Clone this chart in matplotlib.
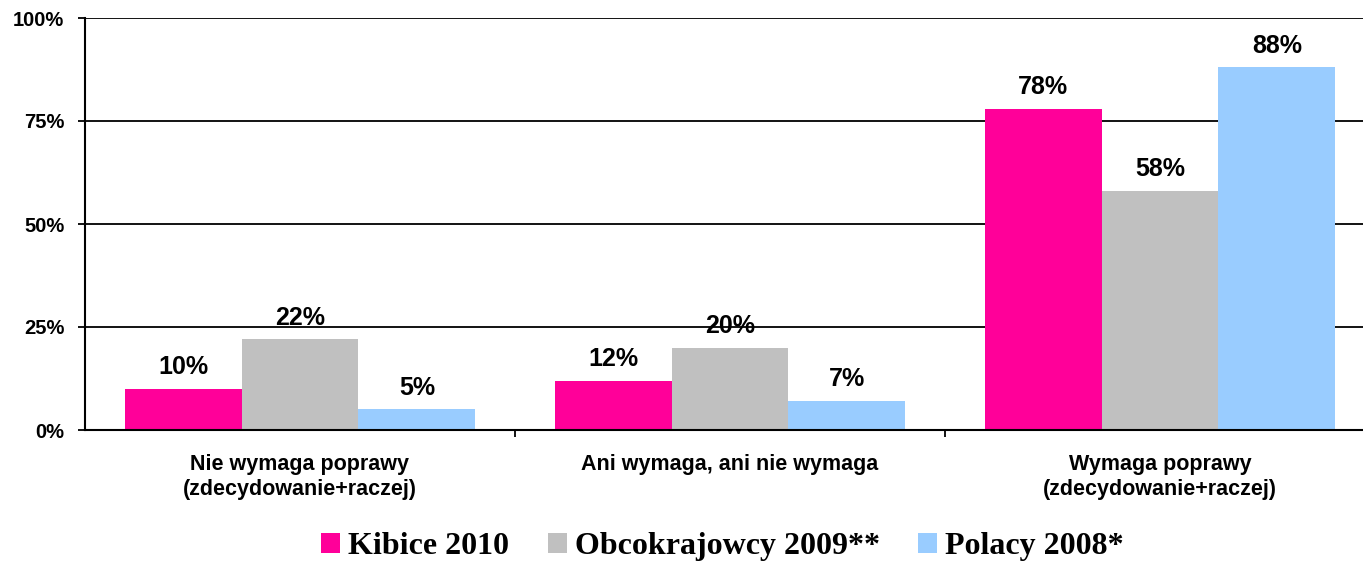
import matplotlib.pyplot as plt
import numpy as np

categories = ['Nie wymaga poprawy\n(zdecydowanie+raczej)',
              'Ani wymaga, ani nie wymaga',
              'Wymaga poprawy\n(zdecydowanie+raczej)']
series = ['Kibice 2010', 'Obcokrajowcy 2009**', 'Polacy 2008*']
kibice = [10, 12, 78]
obcokrajowcy = [22, 20, 58]
polacy = [5, 7, 88]
colors = ['#FF0099', '#C0C0C0', '#99CCFF']

sans = ['Liberation Sans', 'DejaVu Sans']
serif = ['Liberation Serif', 'DejaVu Serif']

fig = plt.figure(figsize=(13.63, 5.64), dpi=100)
# category slots are 430 px wide, so the last one runs past the right edge
ax = fig.add_axes([85 / 1363, 1 - 430 / 564, 1290 / 1363, 412 / 564])

x = np.arange(len(categories))
w = 0.816 / 3
for i, (vals, name) in enumerate(zip([kibice, obcokrajowcy, polacy], series)):
    pos = x + (i - 1) * w
    bars = ax.bar(pos, vals, width=w, color=colors[i], label=name, zorder=3)
    for b, v in zip(bars, vals):
        ax.annotate(f'{v}%', (b.get_x() + b.get_width() / 2, v),
                    xytext=(0, 7), textcoords='offset points',
                    ha='center', va='bottom', fontsize=18,
                    fontweight='bold', family=sans)

ax.set_xlim(-0.5, 2.5)
ax.set_ylim(0, 100)
ax.set_yticks([0, 25, 50, 75, 100])
ax.set_yticklabels([f'{t}%' for t in [0, 25, 50, 75, 100]],
                   fontsize=14.5, fontweight='bold', family=sans)
ax.yaxis.grid(True, color='black', linewidth=1.3, zorder=0)
ax.set_xticks([0.5, 1.5], minor=False)
ax.set_xticks(x, minor=True)
ax.set_xticklabels(['', ''])
ax.set_xticklabels(categories, minor=True, fontsize=15.5,
                   fontweight='bold', family=sans, linespacing=1.3)
ax.tick_params(axis='x', which='major', length=5, width=1.3, direction='out')
ax.tick_params(axis='x', which='minor', length=0, pad=17)
ax.tick_params(axis='y', length=5, width=1.3, pad=10)

for s in ['top', 'right']:
    ax.spines[s].set_visible(False)
for s in ['left', 'bottom']:
    ax.spines[s].set_linewidth(1.5)
    ax.spines[s].set_zorder(4)

fig.legend(loc='lower center', bbox_to_anchor=(0.53, -0.046), ncol=3,
           frameon=False, handlelength=0.6, handleheight=0.6,
           handletextpad=0.25, columnspacing=1.2,
           prop={'family': serif, 'weight': 'bold', 'size': 23})

fig.savefig('out.png', dpi=100)
